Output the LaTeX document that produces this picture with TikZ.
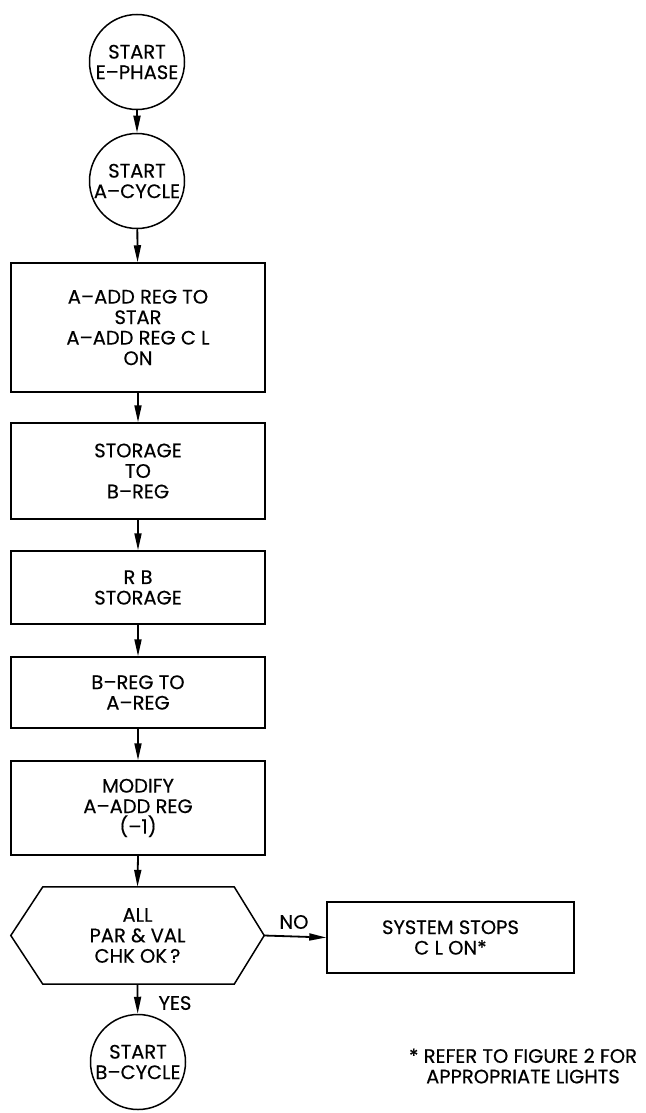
\documentclass[tikz,border=0pt]{standalone}
\usepackage{fontspec}
\setmainfont[FakeBold=0.4]{Poppins}
\usetikzlibrary{arrows.meta,calc}
\begin{document}
\begin{tikzpicture}[x=1pt,y=-1pt,
  every node/.style={font=\fontsize{19.5}{20.5}\selectfont, align=center, inner sep=0pt},
  term/.style={draw, circle, minimum size=95pt, line width=1.5pt},
  proc/.style={draw, rectangle, line width=1.5pt},
  flow/.style={line width=1.8pt, -{Triangle[length=17pt,width=7pt]}},
  edge/.style={line width=1.5pt}]
\useasboundingbox (0,0) rectangle (645,1113);
\node[term] (s1) at (137,62) {START\\E–PHASE};
\node[term] (s2) at (137,181) {START\\A–CYCLE};
\node[proc, minimum width=254pt, minimum height=129pt] (b1) at (138,327.5) {A–ADD REG TO\\STAR\\A–ADD REG C L\\ON};
\node[proc, minimum width=254pt, minimum height=96pt] (b2) at (138,471) {STORAGE\\TO\\B–REG};
\node[proc, minimum width=254pt, minimum height=73pt] (b3) at (138,587.5) {R B\\STORAGE};
\node[proc, minimum width=254pt, minimum height=71pt] (b4) at (138,692.5) {B–REG TO\\A–REG};
\node[proc, minimum width=254pt, minimum height=94pt] (b5) at (138,808) {MODIFY\\A–ADD REG\\(–1)};
\node[minimum width=253pt, minimum height=97pt] (hex) at (137.5,935.5) {ALL\\PAR \& VAL\\CHK OK\,?};
\draw[edge] (hex.west) -- ($(hex.north west)+(32,0)$) -- ($(hex.north east)+(-30,0)$) -- (hex.east)
  -- ($(hex.south east)+(-30,0)$) -- ($(hex.south west)+(32,0)$) -- cycle;
\node[proc, minimum width=247pt, minimum height=71pt] (stop) at (450.5,937.5) {SYSTEM STOPS\\C L ON*};
\node[term] (s3) at (138,1062) {START\\B–CYCLE};
\node (no) at (294,922) {NO};
\node (yes) at (175,1003) {YES};
\node (note) at (523,1066) {* REFER TO FIGURE 2 FOR\\APPROPRIATE LIGHTS};
\draw[flow] (s1) -- (s2);
\draw[flow] (s2) -- (b1);
\draw[flow] (b1) -- (b2);
\draw[flow] (b2) -- (b3);
\draw[flow] (b3) -- (b4);
\draw[flow] (b4) -- (b5);
\draw[flow] (b5.south) -- (hex.north);
\draw[flow] (hex.south) -- (s3);
\draw[flow] (hex.east) -- (stop.west);
\end{tikzpicture}
\end{document}
